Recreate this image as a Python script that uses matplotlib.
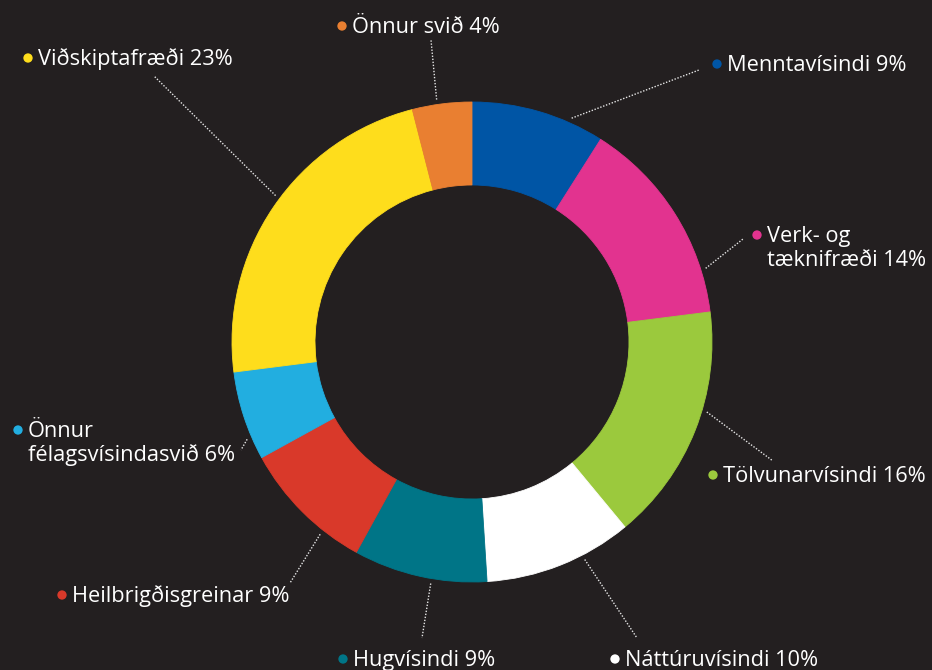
import numpy as np
import matplotlib.pyplot as plt

# 数据
labels = ["Menntavísindi 9%", "Verk- og\ntæknifræði 14%", "Tölvunarvísindi 16%",
          "Náttúruvísindi 10%", "Hugvísindi 9%", "Heilbrigðisgreinar 9%",
          "Önnur\nfélagsvísindasvið 6%", "Viðskiptafræði 23%", "Önnur svið 4%"]
shares = [9, 14, 16, 10, 9, 9, 6, 23, 4]
colors = ["#0055a5", "#e2338f", "#9bc93d", "#ffffff", "#007587",
          "#d9392a", "#22aee0", "#fedd1c", "#e97f31"]

# 标注位置（像素坐标，y 向下）：文字起点 x、第一行基线 y、引线终点、引线起始角度
text_pos = [(727, 71), (767, 242), (723, 482), (625, 666), (353, 666),
            (72, 602), (28, 437), (38, 65), (352, 33)]
leader_end = [(699, 70), (743, 239), (773, 461), (637, 638), (422, 638),
              (290, 583), (241, 450), (154, 76), (431, 40)]
leader_ang = [24, 72.5, 106.6, 152.6, 189.7, 218.3, 246.6, 306.7, 351.7]

BG = "#231f20"
W, H = 932, 670
CX, CY, R, RING = 472, 342, 240, 83

plt.rcParams["font.family"] = ["Open Sans", "DejaVu Sans"]

fig = plt.figure(figsize=(W / 100, H / 100), dpi=100, facecolor=BG)
ax = fig.add_axes([0, 0, 1, 1])
ax.set_facecolor(BG)

wedges, _ = ax.pie(shares, colors=colors, startangle=90, counterclock=False,
                   radius=R, center=(CX, H - CY),
                   wedgeprops=dict(width=RING, linewidth=0.6))
for w, c in zip(wedges, colors):
    w.set_edgecolor(c)

for lab, c, (tx, ty), (ex, ey), ang in zip(labels, colors, text_pos, leader_end, leader_ang):
    a = np.deg2rad(ang)
    sx = CX + 245 * np.sin(a)
    sy = CY - 245 * np.cos(a)
    ax.plot([sx, ex], [H - sy, H - ey], color="#e6e6e6", lw=1.0,
            linestyle=(0, (1, 1.2)), solid_capstyle="butt")
    ax.scatter([tx - 10], [H - ty + 7], s=45, color=c, edgecolors="none", zorder=5)
    for i, line in enumerate(lab.split("\n")):
        ax.text(tx, H - ty - i * 24, line, color="white", fontsize=15.7,
                ha="left", va="baseline")

ax.set_xlim(0, W)
ax.set_ylim(0, H)
ax.set_aspect("equal")
ax.axis("off")

fig.savefig("out.png", dpi=100, facecolor=BG)
